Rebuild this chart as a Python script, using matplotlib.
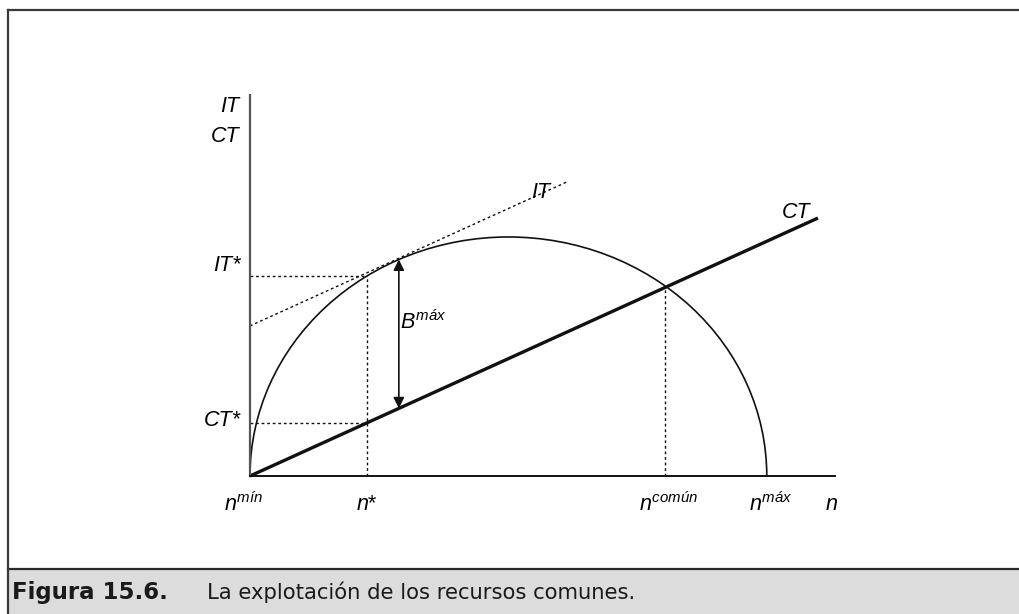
import matplotlib
matplotlib.use("Agg")
import matplotlib.pyplot as plt
from matplotlib.patches import Arc, Rectangle
from matplotlib.lines import Line2D

plt.rcParams['font.family'] = ['Liberation Sans', 'DejaVu Sans']
plt.rcParams['mathtext.fontset'] = 'custom'
plt.rcParams['mathtext.rm'] = 'Liberation Sans'
plt.rcParams['mathtext.it'] = 'Liberation Sans:italic'

# ---- data (economic units) ----
n_min = 0.0
n_star = 22.6
n_comun = 80.3
n_max = 100.0
IT_peak = 100.0
IT_star = 83.7
CT_star = 22.2
CT_slope = 0.982          # CT = CT_slope * n
CT_end_n = 109.9
tangent_n = [0.0, 61.3]
tangent_IT = [62.8, 123.0]
arrow_n = 28.8
arrow_IT = 90.6
arrow_CT = 28.3
x_end = 113.2
y_end = 159.4

x_labels = [r'$n^{mín}$', r'$n$*', r'$n^{común}$', r'$n^{máx}$', r'$n$']
x_label_pos = [n_min, n_star, n_comun, n_max, x_end]
x_label_shift = [-6, 0, 4, 4, -4]

W, H = 1019, 614
fig = plt.figure(figsize=(W / 100, H / 100), dpi=100)

# background frame and caption bar
bg = fig.add_axes([0, 0, 1, 1])
bg.set_xlim(0, W)
bg.set_ylim(H, 0)
bg.axis('off')
bg.add_patch(Rectangle((8, 569), W - 8, H - 569, facecolor='#dcdcdc', edgecolor='none'))
bg.add_line(Line2D([8, W], [569, 569], color='#2a2a2a', lw=1.6))
bg.add_line(Line2D([8, 8], [10, H], color='#3a3a3a', lw=1.6))
bg.add_line(Line2D([8, W], [10, 10], color='#3a3a3a', lw=1.6))
fig.text(12 / W, 1 - 592 / H, 'Figura 15.6.', fontsize=16.5, fontweight='bold',
         family='DejaVu Sans', va='center', ha='left', color='#1a1a1a')
fig.text(207 / W, 1 - 592 / H, 'La explotación de los recursos comunes.', fontsize=15.2,
         family='DejaVu Sans', va='center', ha='left', color='#1a1a1a')

# main axes
ax = fig.add_axes([250 / W, (H - 476) / H, 585 / W, 381 / H])
ax.set_xlim(0, x_end)
ax.set_ylim(0, y_end)
ax.patch.set_alpha(0)
for s in ['top', 'right']:
    ax.spines[s].set_visible(False)
ax.spines['left'].set_color('#555555')
ax.spines['left'].set_linewidth(1.6)
ax.spines['bottom'].set_color('#111111')
ax.spines['bottom'].set_linewidth(1.4)
ax.set_xticks([])
ax.set_yticks([])

# IT curve (half ellipse)
ax.add_patch(Arc(((n_min + n_max) / 2, 0), n_max - n_min, 2 * IT_peak, theta1=0, theta2=180,
                 color='#111111', lw=1.2, clip_on=False))
# CT line
ax.plot([0, CT_end_n], [0, CT_slope * CT_end_n], color='#111111', lw=2.4,
        solid_capstyle='butt', clip_on=False)
# tangent
ax.plot(tangent_n, tangent_IT, color='#111111', lw=1.0, ls=(0, (2, 2)), clip_on=False)
# guide lines
dash = dict(color='#111111', lw=1.0, ls=(0, (2, 2)))
ax.plot([0, n_star], [IT_star, IT_star], **dash)
ax.plot([0, n_star], [CT_star, CT_star], **dash)
ax.plot([n_star, n_star], [0, IT_star], **dash)
ax.plot([n_comun, n_comun], [0, CT_slope * n_comun], **dash)

# B max arrow
ax.annotate('', xy=(arrow_n, arrow_IT), xytext=(arrow_n, arrow_CT),
            arrowprops=dict(arrowstyle='<|-|>', color='#111111', lw=1.2,
                            mutation_scale=16, shrinkA=0, shrinkB=0))

fs = 15.5
ax.text(arrow_n + 0.2, (arrow_IT + arrow_CT) / 2 + 5, r'$B^{máx}$', fontsize=fs,
        ha='left', va='center')

# y labels
ax.annotate('IT', xy=(0, y_end), xytext=(-11, -11), textcoords='offset pixels',
            ha='right', va='center', fontsize=fs, style='italic')
ax.annotate('CT', xy=(0, y_end), xytext=(-11, -41), textcoords='offset pixels',
            ha='right', va='center', fontsize=fs, style='italic')
ax.annotate('IT*', xy=(0, IT_star), xytext=(-9, 10), textcoords='offset pixels',
            ha='right', va='center', fontsize=fs, style='italic')
ax.annotate('CT*', xy=(0, CT_star), xytext=(-9, 2), textcoords='offset pixels',
            ha='right', va='center', fontsize=fs, style='italic')

# x labels
for lab, pos, sh in zip(x_labels, x_label_pos, x_label_shift):
    ax.annotate(lab, xy=(pos, 0), xytext=(sh, -28), textcoords='offset pixels',
                ha='center', va='center', fontsize=fs)

# curve labels
ax.annotate('IT', xy=(n_max / 2, IT_peak), xytext=(32, 44), textcoords='offset pixels',
            ha='center', va='center', fontsize=fs, style='italic')
ax.annotate('CT', xy=(CT_end_n, CT_slope * CT_end_n), xytext=(-22, 6), textcoords='offset pixels',
            ha='center', va='center', fontsize=fs, style='italic')

fig.savefig('out.png', dpi=100)
